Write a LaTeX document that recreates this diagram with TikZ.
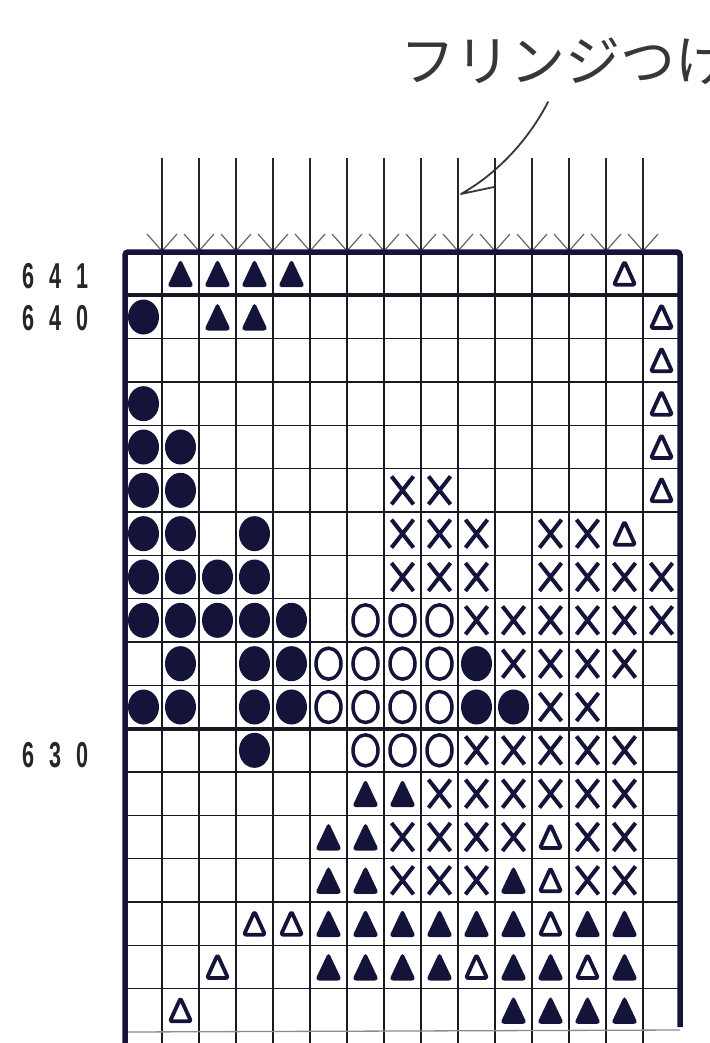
\documentclass[tikz,border=0pt]{standalone}
\usepackage{fontspec}
\newfontfamily\jpfont{Noto Sans CJK JP}
\newfontfamily\numfont{Liberation Sans}
\usetikzlibrary{calc}
\definecolor{ink}{RGB}{20,20,58}
\definecolor{gridc}{RGB}{25,25,35}
\definecolor{txtgray}{RGB}{55,55,55}
\tikzset{
  thinline/.style={draw=gridc, line width=1.6pt},
  thickline/.style={draw=gridc, line width=3.8pt},
  border/.style={draw=ink, line width=5.5pt},
  stem/.style={draw=black!85, line width=1.3pt},
  barb/.style={draw=black!60, line width=1.2pt},
  leader/.style={draw=txtgray, line width=1.8pt, line cap=round, line join=round},
  rowlabel/.style={font=\numfont\bfseries\fontsize{36}{36}\selectfont, text=black!85, inner sep=0pt},
  symF/.pic={\fill[ink] (0,0) ellipse [x radius=15.5, y radius=17.5];},
  symO/.pic={\draw[ink, line width=3.5pt] (0,0) ellipse [x radius=12.5, y radius=15.5];},
  symX/.pic={\draw[ink, line width=4pt] (-11,-14) -- (11,14) (-11,14) -- (11,-14);},
  symT/.pic={\fill[ink, rounded corners=4pt] (-13.5,13.5) -- (0,-15) -- (13.5,13.5) -- cycle;},
  symD/.pic={\draw[ink, line width=3.8pt, line join=round, rounded corners=2pt] (-10.5,11) -- (0,-12) -- (10.5,11) -- cycle;},
}
\begin{document}
\begin{tikzpicture}[x=1pt,y=-1pt]
\useasboundingbox (0,0) rectangle (709,1043);
\clip (0,0) rectangle (709,1043);
\fill[white] (0,0) rectangle (709,1043);

% title
\node[anchor=base west, font=\jpfont\fontsize{55}{55}\selectfont, text=txtgray, inner sep=0pt] (title) at (400,82) {フリンジつけ};

% leader line
\coordinate (ldtop) at (548,102);
\coordinate (ldend) at (461,194);
\coordinate (ldbarb) at (494,187);
\draw[leader] (ldtop) .. controls (530,137) and (500,172) .. (ldend) -- (ldbarb);

% fringe arrows
\foreach \k in {1,...,14} {
  \coordinate (top\k) at ({125+37*\k},158);
  \coordinate (tip\k) at ({125+37*\k},251);
  \draw[stem] (top\k) -- (tip\k);
  \draw[barb] ($(tip\k)+(-15,-17)$) -- (tip\k) -- ($(tip\k)+(15,-17)$);
}

% grid
\foreach \k in {1,...,14}
  \draw[thinline] ({125+37*\k},252) -- ({125+37*\k},1043);
\foreach \j in {2,...,10,12,13,...,17}
  \draw[thinline] (125,{252+43.333*\j}) -- (680,{252+43.333*\j});
\draw[draw=black!45, line width=1.3pt] (125,1032) -- (680,1030);
\foreach \j in {1,11}
  \draw[thickline] (125,{252+43.333*\j}) -- (680,{252+43.333*\j});
\draw[border, rounded corners=3pt] (125,1043) -- (125,252) -- (680,252) -- (680,1027);

% symbols
\foreach \r/\items in {
  1/{2/T,3/T,4/T,5/T,14/D},
  2/{1/F,3/T,4/T,15/D},
  3/{15/D},
  4/{1/F,15/D},
  5/{1/F,2/F,15/D},
  6/{1/F,2/F,8/X,9/X,15/D},
  7/{1/F,2/F,4/F,8/X,9/X,10/X,12/X,13/X,14/D},
  8/{1/F,2/F,3/F,4/F,8/X,9/X,10/X,12/X,13/X,14/X,15/X},
  9/{1/F,2/F,3/F,4/F,5/F,7/O,8/O,9/O,10/X,11/X,12/X,13/X,14/X,15/X},
  10/{2/F,4/F,5/F,6/O,7/O,8/O,9/O,10/F,11/X,12/X,13/X,14/X},
  11/{1/F,2/F,4/F,5/F,6/O,7/O,8/O,9/O,10/F,11/F,12/X,13/X},
  12/{4/F,7/O,8/O,9/O,10/X,11/X,12/X,13/X,14/X},
  13/{7/T,8/T,9/X,10/X,11/X,12/X,13/X,14/X},
  14/{6/T,7/T,8/X,9/X,10/X,11/X,12/D,13/X,14/X},
  15/{6/T,7/T,8/X,9/X,10/X,11/T,12/D,13/X,14/X},
  16/{4/D,5/D,6/T,7/T,8/T,9/T,10/T,11/T,12/D,13/T,14/T},
  17/{3/D,6/T,7/T,8/T,9/T,10/D,11/T,12/T,13/D,14/T},
  18/{2/D,11/T,12/T,13/T,14/T}}
  \foreach \c/\t in \items
    \pic at ({125+37*(\c-0.5)},{252+43.333*(\r-0.5)}) {sym\t};

% row labels
\node[rowlabel] (lab641) at (56,276) {\scalebox{0.6}[1]{6\hspace{25pt}4\hspace{25pt}1}};
\node[rowlabel] (lab640) at (56,318) {\scalebox{0.6}[1]{6\hspace{25pt}4\hspace{25pt}0}};
\node[rowlabel] (lab630) at (56,755) {\scalebox{0.6}[1]{6\hspace{25pt}3\hspace{25pt}0}};
\end{tikzpicture}
\end{document}
